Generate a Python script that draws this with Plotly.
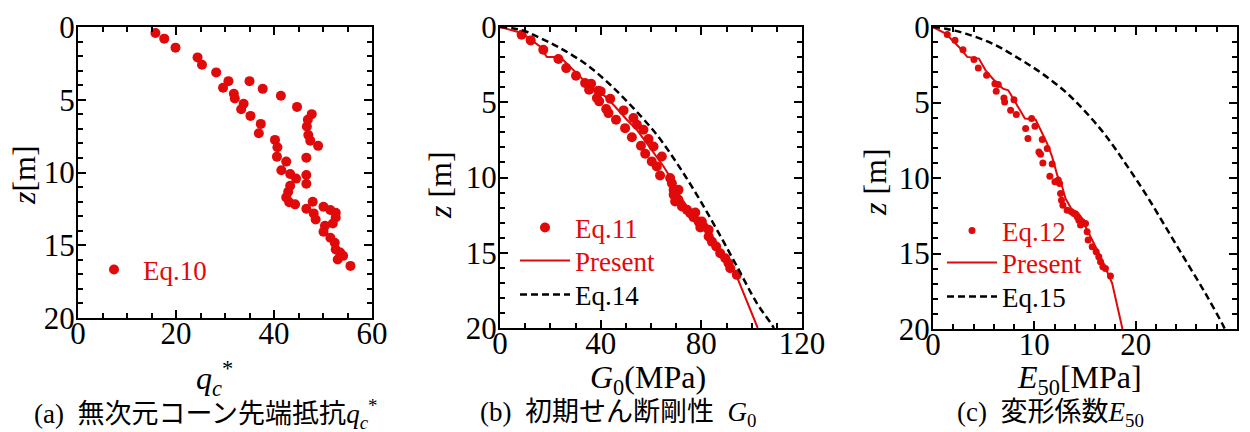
import plotly.graph_objects as go

# ---------------- data ----------------
# (a) Eq.10 : q_c* vs depth z
qc_x = [15.8, 17.6, 19.9, 24.4, 25.3, 28.2, 30.7, 35.0, 29.6, 37.7, 31.8, 32.0, 41.4, 33.8, 33.3,
        44.7, 35.2, 47.7, 46.9, 37.3, 46.7, 36.9, 47.0, 40.2, 47.4, 49.0, 40.7, 40.6, 46.6, 42.5,
        41.5, 46.6, 43.3, 44.5, 46.6, 43.3, 42.9, 42.5, 43.1, 44.3, 47.9, 46.6, 50.1, 51.5, 52.6,
        48.1, 48.5, 52.6, 52.0, 50.4, 50.1, 51.5, 52.4, 52.6, 53.5, 54.1, 53.0, 55.6]
qc_z = [0.41, 0.80, 1.42, 2.09, 2.59, 3.12, 3.72, 3.72, 4.18, 4.25, 4.59, 4.91, 4.73, 5.28, 5.65,
        5.49, 6.11, 5.99, 6.38, 6.66, 6.84, 7.30, 7.42, 7.76, 7.81, 8.17, 8.27, 8.91, 8.98, 9.25,
        9.85, 10.17, 10.10, 10.42, 10.77, 10.91, 11.32, 11.71, 12.05, 12.19, 12.01, 12.49, 12.35, 12.58, 12.77,
        12.81, 13.23, 13.09, 13.50, 13.66, 14.07, 14.49, 14.83, 15.29, 15.50, 15.73, 15.98, 16.42]

# (b) Eq.11 points : G0 vs depth z
g11_x = [8.6, 12.2, 17.2, 23.2, 26.3, 30.2, 33.8, 36.2, 35.4, 39.1, 40.0, 38.5, 43.8, 39.4, 42.2,
         49.1, 43.1, 46.1, 53.0, 49.7, 54.4, 52.4, 57.0, 59.0, 56.0, 61.0, 57.7, 64.3, 60.3, 62.3,
         63.6, 67.6, 68.3, 69.0, 70.9, 69.0, 70.9, 69.6, 72.3, 74.3, 75.6, 77.6, 76.9, 78.9, 80.2,
         80.9, 79.6, 82.9, 82.9, 84.2, 85.9, 87.5, 89.5, 90.8, 91.5, 94.1]
g11_z = [0.51, 0.89, 1.51, 2.13, 2.73, 3.24, 3.72, 3.77, 4.17, 4.23, 4.28, 4.72, 4.77, 4.94, 5.45,
         5.54, 5.72, 6.16, 6.05, 6.72, 6.50, 7.32, 6.83, 7.45, 7.89, 7.94, 8.42, 8.60, 8.93, 9.27,
         9.87, 10.04, 10.38, 10.82, 10.82, 11.15, 11.48, 11.59, 11.93, 12.15, 12.37, 12.33, 12.64, 12.93, 12.93,
         13.26, 13.32, 13.48, 13.92, 14.26, 14.59, 15.03, 15.36, 15.70, 16.03, 16.47]
# (b) Present
gp_x = [0, 8.6, 15.9, 18.6, 23.9, 30.5, 35.8, 41.8, 45.7, 50.4, 54.4, 58.3, 62.3, 65.0, 68.3,
        70.9, 72.9, 75.6, 80.9, 83.5, 90.8, 94.1, 102.4]
gp_z = [0, 0.40, 1.29, 2.0, 2.0, 3.06, 3.95, 4.61, 5.28, 6.16, 6.83, 7.71, 8.60, 9.27, 10.15,
        11.04, 11.59, 12.26, 13.04, 13.70, 15.70, 16.58, 20.0]
# (b) Eq.14
g14_x = [0, 5.5, 10.3, 14.6, 23.9, 34.5, 43.8, 53.0, 62.3, 70.3, 78.2, 86.2, 94.2, 102.1, 108.1, 108.8]
g14_z = [0, 0.10, 0.30, 0.62, 1.40, 2.51, 3.84, 5.39, 7.16, 9.05, 11.15, 13.48, 15.92, 18.36, 19.80, 20.0]

# (c) Eq.12 points : E50 vs depth z
e12_x = [1.41, 2.17, 2.96, 4.04, 4.47, 5.29, 6.11, 6.44, 6.24, 7.00, 7.99, 7.07, 7.66, 9.73, 8.22,
         9.14, 10.06, 9.37, 10.78, 10.45, 11.27, 10.61, 11.76, 10.84, 11.53, 12.36, 12.03, 12.49, 12.59, 12.68,
         12.82, 13.24, 13.67, 13.90, 14.23, 14.39, 14.72, 14.56, 15.05, 15.21, 15.31, 15.71, 16.10, 16.36, 16.53,
         16.76, 17.02, 17.51]
e12_z = [0.49, 0.88, 1.50, 2.16, 2.71, 3.20, 3.75, 3.81, 4.26, 4.70, 4.81, 4.96, 5.51, 6.06, 5.80,
         6.73, 6.57, 7.39, 7.45, 8.27, 8.05, 8.42, 9.08, 9.00, 9.88, 10.14, 10.25, 10.36, 11.03, 11.47,
         11.80, 12.13, 12.24, 12.35, 12.57, 12.79, 12.90, 13.12, 13.01, 13.56, 14.11, 14.55, 14.88, 15.21, 15.55,
         15.88, 15.99, 16.49]
# (c) Present
ep_x = [0, 1.25, 2.56, 3.38, 4.53, 5.19, 6.18, 6.90, 7.43, 8.31, 9.07, 10.12, 10.61, 11.27, 11.76,
        11.93, 12.26, 12.75, 13.08, 13.73, 14.23, 14.72, 15.05, 15.71, 16.69, 17.68, 18.7]
ep_z = [0, 0.44, 1.32, 1.98, 2.09, 2.87, 3.64, 4.08, 4.19, 5.18, 6.06, 6.13, 6.84, 7.72, 8.60,
        9.04, 9.81, 10.58, 11.36, 12.13, 12.24, 12.68, 13.23, 14.11, 15.44, 16.98, 20.0]
# (c) Eq.15
e15_x = [0, 1.25, 3.22, 5.85, 8.48, 10.78, 13.08, 15.05, 17.02, 18.99, 20.96, 22.94, 24.91, 26.88, 28.52, 28.8]
e15_z = [0, 0.11, 0.44, 1.10, 2.09, 3.09, 4.30, 5.62, 7.17, 9.04, 11.03, 13.23, 15.44, 17.64, 19.62, 20.0]

x_ranges = [[0, 60], [0, 120], [0, 30]]
x_dticks = [20, 40, 10]
x_minor = [5, 10, 2]

# ---------------- style ----------------
RED = "#e00a0a"
SERIF = "Liberation Serif"
MIXED = "Liberation Serif, Noto Sans CJK JP"
W, H = 1250, 432

def px(v):
    return v / W

def py(v):
    return 1 - v / H

fig = go.Figure()

def add(x, y, name, ax, leg, **kw):
    fig.add_trace(go.Scatter(x=x, y=y, name=name, xaxis="x" + ax, yaxis="y" + ax, legend=leg, **kw))

# panel a
add(qc_x, qc_z, "Eq.10", "", "legend", mode="markers", marker=dict(color=RED, size=10))
# panel b
add(g11_x, g11_z, "Eq.11", "2", "legend2", mode="markers", marker=dict(color=RED, size=10))
add(gp_x, gp_z, "Present", "2", "legend3", mode="lines", line=dict(color=RED, width=2))
add(g14_x, g14_z, "<span style='color:black'>Eq.14</span>", "2", "legend4", mode="lines",
    line_shape="spline", line=dict(color="black", width=2.5, dash="7px,4px"))
# panel c
add(e12_x, e12_z, "Eq.12", "3", "legend5", mode="markers", marker=dict(color=RED, size=7))
add(ep_x, ep_z, "Present", "3", "legend6", mode="lines", line=dict(color=RED, width=2))
add(e15_x, e15_z, "<span style='color:black'>Eq.15</span>", "3", "legend7", mode="lines",
    line_shape="spline", line=dict(color="black", width=2.5, dash="7px,4px"))

domains_x = [[px(78), px(372)], [px(500), px(802)], [px(933), px(1237)]]
domains_y = [[py(318), py(27)], [py(328), py(27)], [py(329), py(27)]]

common = dict(showgrid=False, zeroline=False, showline=True, linecolor="black", linewidth=2,
              mirror="allticks", ticks="inside", ticklen=8, tickwidth=1.8, tickcolor="black",
              automargin=False,
              tickfont=dict(family=SERIF, size=31, color="black"))

layout = dict(width=W, height=H, margin=dict(l=0, r=0, t=0, b=0, autoexpand=False),
              paper_bgcolor="white", plot_bgcolor="white", showlegend=True)

for i in range(3):
    sfx = "" if i == 0 else str(i + 1)
    layout["xaxis" + sfx] = dict(domain=domains_x[i], range=x_ranges[i], dtick=x_dticks[i], tick0=0,
                                 anchor="y" + sfx, ticklabelstandoff=-13,
                                 minor=dict(ticks="inside", ticklen=5, tickwidth=1.5, tickcolor="black",
                                            dtick=x_minor[i], tick0=0),
                                 **common)
    layout["yaxis" + sfx] = dict(domain=domains_y[i], range=[20, 0], dtick=5, tick0=0,
                                 anchor="x" + sfx, ticklabelstandoff=-5,
                                 minor=dict(ticks="inside", ticklen=5, tickwidth=1.5, tickcolor="black",
                                            dtick=1, tick0=0),
                                 **common)

leg_common = dict(xanchor="left", yanchor="middle", bgcolor="rgba(0,0,0,0)", borderwidth=0,
                  font=dict(family=SERIF, size=27, color=RED), itemwidth=50)
# legend rows: (left x of box, row centre y)
leg_pos = {"legend": (85, 270), "legend2": (515, 228), "legend3": (515, 261), "legend4": (515, 295),
           "legend5": (942, 231), "legend6": (942, 263), "legend7": (942, 297)}
for k, (lx, ly) in leg_pos.items():
    layout[k] = dict(x=px(lx), y=py(ly), **leg_common)
layout["legend"]["itemwidth"] = 48

fig.update_layout(**layout)

ann = []
# y-axis titles
for xc, yc, txt in [(24, 175, "<i>z</i>[m]"), (440, 185, "<i>z</i> [m]"), (875, 182, "<i>z</i> [m]")]:
    ann.append(dict(x=px(xc), y=py(yc), xref="paper", yref="paper", text=txt, textangle=-90,
                    showarrow=False, font=dict(family=SERIF, size=32, color="black"),
                    xanchor="center", yanchor="middle"))
# x-axis titles
for xc, yc, txt in [(215, 378, "<i>q<sub>c</sub></i><sup>*</sup>"),
                    (648, 379, "<i>G</i><sub>0</sub>(MPa)"),
                    (1079, 379, "<i>E</i><sub>50</sub>[MPa]")]:
    ann.append(dict(x=px(xc), y=py(yc), xref="paper", yref="paper", text=txt,
                    showarrow=False, font=dict(family=SERIF, size=32, color="black"),
                    xanchor="center", yanchor="middle"))
# captions
for xc, yc, txt in [(205, 414, "(a)  無次元コーン先端抵抗<i>q<sub>c</sub></i><sup>*</sup>"),
                    (618, 414, "(b)  初期せん断剛性  <i>G</i><sub>0</sub>"),
                    (1050, 414, "(c)  変形係数<i>E</i><sub>50</sub>")]:
    ann.append(dict(x=px(xc), y=py(yc), xref="paper", yref="paper", text=txt,
                    showarrow=False, font=dict(family=MIXED, size=27, color="black"),
                    xanchor="center", yanchor="middle"))
fig.update_layout(annotations=ann)

fig.write_html("out.html")
